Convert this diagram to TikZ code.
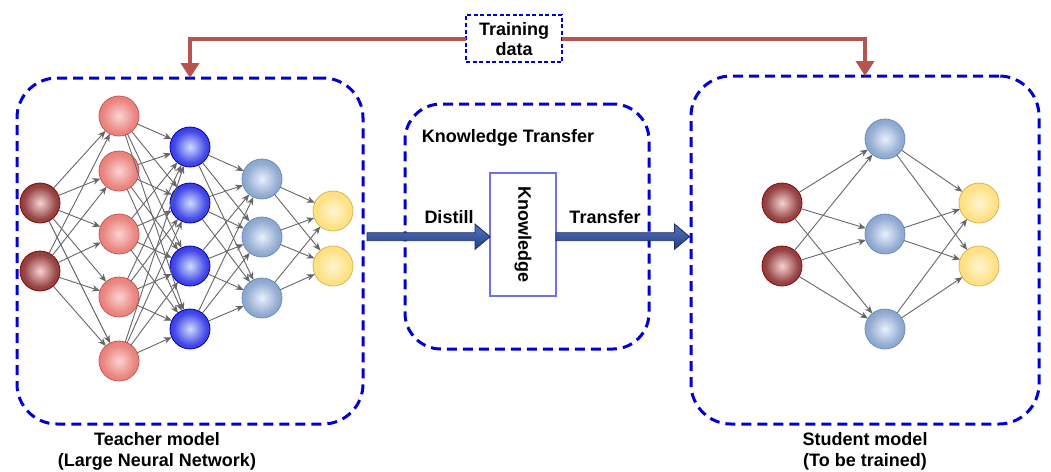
\documentclass[tikz,border=0pt]{standalone}
\usepackage{fontspec}
\setmainfont{Liberation Sans}
\usetikzlibrary{arrows.meta,calc}
\definecolor{drIn}{HTML}{F6D2D2}\definecolor{drOut}{HTML}{6E0B0B}\definecolor{drBd}{HTML}{8B0A0A}
\definecolor{pkIn}{HTML}{FAD4D2}\definecolor{pkOut}{HTML}{E4655F}\definecolor{pkBd}{HTML}{C25A55}
\definecolor{blIn}{HTML}{CFDDFF}\definecolor{blOut}{HTML}{0A0ADC}\definecolor{blBd}{HTML}{0000B0}
\definecolor{stIn}{HTML}{E8F0FD}\definecolor{stOut}{HTML}{6688BA}\definecolor{stBd}{HTML}{6C8EBF}
\definecolor{ylIn}{HTML}{FFF5D2}\definecolor{ylOut}{HTML}{FFD75E}\definecolor{ylBd}{HTML}{D6B656}
\definecolor{boxblue}{HTML}{0000D4}
\definecolor{kbblue}{HTML}{6F6FF0}
\definecolor{redline}{HTML}{B85450}
\definecolor{edgegray}{HTML}{666666}
\definecolor{navyA}{HTML}{5472BC}\definecolor{navyB}{HTML}{243F86}\definecolor{navyC}{HTML}{1C2E6C}
\pgfdeclareradialshading{shdr}{\pgfpoint{0bp}{0bp}}{color(0bp)=(drIn); color(20bp)=(drIn!30!drOut); color(44bp)=(drOut); color(50bp)=(drOut)}
\pgfdeclareradialshading{shpk}{\pgfpoint{0bp}{0bp}}{color(0bp)=(pkIn); color(20bp)=(pkIn!30!pkOut); color(44bp)=(pkOut); color(50bp)=(pkOut)}
\pgfdeclareradialshading{shbl}{\pgfpoint{0bp}{0bp}}{color(0bp)=(blIn); color(20bp)=(blIn!30!blOut); color(44bp)=(blOut); color(50bp)=(blOut)}
\pgfdeclareradialshading{shst}{\pgfpoint{0bp}{0bp}}{color(0bp)=(stIn); color(20bp)=(stIn!35!stOut); color(44bp)=(stOut); color(50bp)=(stOut)}
\pgfdeclareradialshading{shyl}{\pgfpoint{0bp}{0bp}}{color(0bp)=(ylIn); color(20bp)=(ylIn!35!ylOut); color(44bp)=(ylOut); color(50bp)=(ylOut)}
\tikzset{
  neuron/.style={circle, minimum size=40pt, inner sep=0pt, outer sep=0pt, line width=0.8pt},
  ndr/.style={neuron, shading=shdr, draw=drBd},
  npk/.style={neuron, shading=shpk, draw=pkBd},
  nbl/.style={neuron, shading=shbl, draw=blBd},
  nst/.style={neuron, shading=shst, draw=stBd},
  nyl/.style={neuron, shading=shyl, draw=ylBd},
  edge/.style={draw=edgegray, line width=0.9pt, -{Stealth[length=8pt,width=6.5pt]}},
  bigbox/.style={draw=boxblue, line width=3pt, dash pattern=on 10pt off 6pt, rounded corners=40pt, inner sep=0pt, outer sep=0pt},
  lbl/.style={font=\fontsize{18}{21}\selectfont\bfseries, inner sep=0pt, anchor=base},
  blockarrow/.style={draw=navyC, line width=0.9pt, top color=navyA, bottom color=navyB},
  redarrow/.style={draw=redline, line width=4pt, -{Triangle[length=15pt,width=18pt]}}
}
\begin{document}
\begin{tikzpicture}[x=1pt,y=-1pt]
\useasboundingbox (0,0) rectangle (1051,471);
% boxes
\node[bigbox, minimum width=346pt, minimum height=346pt] (teacher) at (190,251) {};
\node[bigbox, rounded corners=36pt, minimum width=244pt, minimum height=245pt] (kt) at (527,226.5) {};
\node[bigbox, minimum width=348pt, minimum height=348pt] (student) at (865,250) {};
\node[draw=kbblue, line width=1.2pt, minimum width=66pt, minimum height=123pt, inner sep=0pt, outer sep=0pt] (kb) at (523,234.5) {};
\node[font=\fontsize{18}{21}\selectfont\bfseries, rotate=-90] (kbt) at (kb.center) {Knowledge};
\node[draw=boxblue, line width=1.2pt, dash pattern=on 4pt off 2.5pt, minimum width=96pt, minimum height=47pt, inner sep=0pt, outer sep=0pt, fill=white] (td) at (514,38.5) {};
\node[lbl] (td1) at (514,35) {Training};
\node[lbl] (td2) at (514,55.5) {data};
% red arrows
\draw[redarrow] (td.west) -| (teacher.north);
\draw[redarrow] (td.east) -| (student.north);
% teacher network
\foreach \y [count=\i] in {203,271} \node[ndr] (ta\i) at (40,\y) {};
\foreach \y [count=\i] in {116,171,234,297,361} \node[npk] (tb\i) at (119,\y) {};
\foreach \y [count=\i] in {147,203,266,329} \node[nbl] (tc\i) at (190,\y) {};
\foreach \y [count=\i] in {179,237,298} \node[nst] (td\i x) at (262,\y) {};
\foreach \y [count=\i] in {211,266} \node[nyl] (te\i) at (333,\y) {};
\foreach \i in {1,2} \foreach \j in {1,...,5} \draw[edge] (ta\i) -- (tb\j);
\foreach \i in {1,...,5} \foreach \j in {1,...,4} \draw[edge] (tb\i) -- (tc\j);
\foreach \i in {1,...,4} \foreach \j in {1,2,3} \draw[edge] (tc\i) -- (td\j x);
\foreach \i in {1,2,3} \foreach \j in {1,2} \draw[edge] (td\i x) -- (te\j);
% student network
\foreach \y [count=\i] in {203,266} \node[ndr] (sa\i) at (782,\y) {};
\foreach \y [count=\i] in {139,234,329} \node[nst] (sb\i) at (885,\y) {};
\foreach \y [count=\i] in {203,266} \node[nyl] (sc\i) at (979,\y) {};
\foreach \i in {1,2} \foreach \j in {1,2,3} \draw[edge] (sa\i) -- (sb\j);
\foreach \i in {1,2,3} \foreach \j in {1,2} \draw[edge] (sb\i) -- (sc\j);
% block arrows
\coordinate (d1) at (367,236.7);
\coordinate (d2) at (kb.west |- d1);
\path[blockarrow] ($(d1)+(0,-4)$) -- ($(d2)+(-15,-4)$) -- ($(d2)+(-15,-12.6)$) -- (d2) -- ($(d2)+(-15,12.6)$) -- ($(d2)+(-15,4)$) -- ($(d1)+(0,4)$) -- cycle;
\coordinate (t1) at (kb.east |- d1);
\coordinate (t2) at ([xshift=-1.5pt]student.west |- d1);
\path[blockarrow] ($(t1)+(0,-4)$) -- ($(t2)+(-15,-4)$) -- ($(t2)+(-15,-12.6)$) -- (t2) -- ($(t2)+(-15,12.6)$) -- ($(t2)+(-15,4)$) -- ($(t1)+(0,4)$) -- cycle;
% labels
\node[lbl] (ktl) at (508,142) {Knowledge Transfer};
\node[lbl] (dl) at (449,223) {Distill};
\node[lbl] (trl) at (605,223) {Transfer};
\node[lbl] (tl1) at (157,445) {Teacher model};
\node[lbl] (tl2) at (157,466) {(Large Neural Network)};
\node[lbl] (sl1) at (865,445) {Student model};
\node[lbl] (sl2) at (865,466) {(To be trained)};
\end{tikzpicture}
\end{document}
